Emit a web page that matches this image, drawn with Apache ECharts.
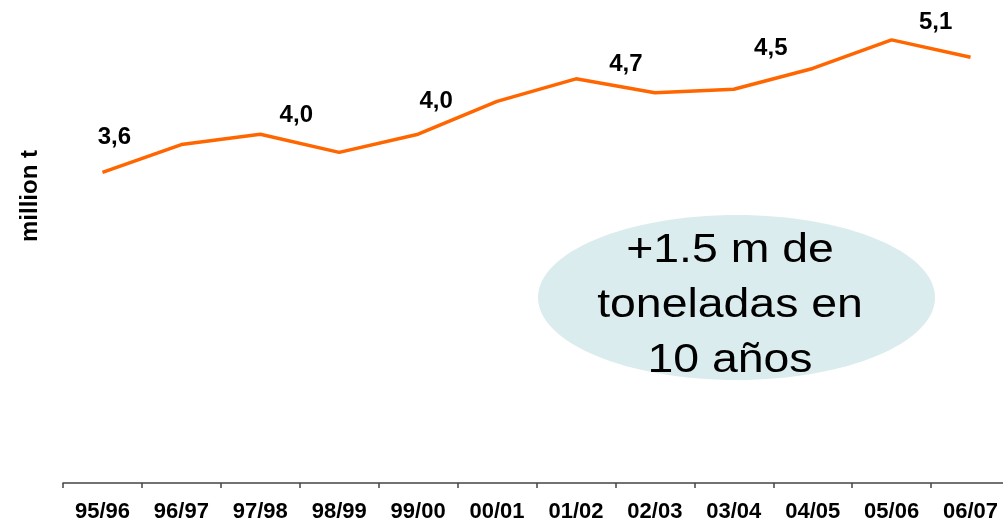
<!DOCTYPE html>
<html>
<head>
<meta charset="utf-8">
<script src="https://cdn.jsdelivr.net/npm/echarts@6/dist/echarts.min.js"></script>
<style>
html,body{margin:0;padding:0;background:#fff;}
#chart{width:1003px;height:520px;}
</style>
</head>
<body>
<div id="chart"></div>
<script>
const categories = ['95/96','96/97','97/98','98/99','99/00','00/01','01/02','02/03','03/04','04/05','05/06','06/07'];
const values = [3.59, 3.91, 4.03, 3.82, 4.03, 4.41, 4.67, 4.51, 4.55, 4.79, 5.12, 4.92];
const pointLabels = ['3,6','','4,0','','4,0','','4,7','','4,5','','5,1',''];
const yAxisTitle = 'million t';
const calloutLines = ['+1.5 m de','toneladas en','10 años'];

// label placement (styling)
const labelOffsets = [[12,-35],null,[36,-19],null,[18,-33],null,[50,-14],null,[37,-41],null,[44,-18],null];

const seriesData = values.map((v, i) => {
  const item = { value: v };
  if (pointLabels[i]) {
    item.label = { show: true, formatter: pointLabels[i], offset: labelOffsets[i] };
  }
  return item;
});

const chart = echarts.init(document.getElementById('chart'), null, { renderer: 'canvas' });
chart.setOption({
  animation: false,
  backgroundColor: '#ffffff',
  grid: { left: 63, top: 7, bottom: 37, width: 947, containLabel: false, outerBoundsMode: 'none' },
  xAxis: {
    type: 'category',
    data: categories,
    boundaryGap: true,
    axisLine: { lineStyle: { color: '#444444', width: 1.5 } },
    axisTick: { show: true, length: 5, lineStyle: { color: '#444444', width: 1.5 } },
    axisLabel: { margin: 18, fontFamily: 'Liberation Sans, Arial, sans-serif', fontWeight: 'bold', fontSize: 22, color: '#000' },
    splitLine: { show: false }
  },
  yAxis: {
    type: 'value', min: 0, max: 5.5, show: false
  },
  graphic: [
    {
      type: 'text', left: 18, top: 150, rotation: Math.PI / 2, z: 10,
      style: { text: yAxisTitle, fontFamily: 'Liberation Sans, Arial, sans-serif', fontWeight: 'bold', fontSize: 24, fill: '#000' }
    },
    {
      type: 'ellipse', shape: { cx: 736.5, cy: 297.5, rx: 198.5, ry: 82.5 }, z: 1,
      style: { fill: '#dbecee', stroke: null }
    },
    {
      type: 'text', x: 730, y: 306, z: 5, scaleX: 1.16,
      style: {
        text: calloutLines.join('\n'), fontFamily: 'Liberation Sans, Arial, sans-serif', fontSize: 40,
        lineHeight: 55, fill: '#000', align: 'center', verticalAlign: 'middle'
      }
    }
  ],
  series: [{
    type: 'line',
    data: seriesData,
    z: 3,
    symbol: 'circle',
    symbolSize: 1,
    showSymbol: true,
    itemStyle: { color: 'rgba(0,0,0,0)' },
    lineStyle: { color: '#ff6600', width: 3.5 },
    label: {
      show: false, position: 'inside',
      fontFamily: 'Liberation Sans, Arial, sans-serif', fontWeight: 'bold', fontSize: 24, color: '#000'
    },
    emphasis: { disabled: true }
  }]
});
</script>
</body>
</html>
